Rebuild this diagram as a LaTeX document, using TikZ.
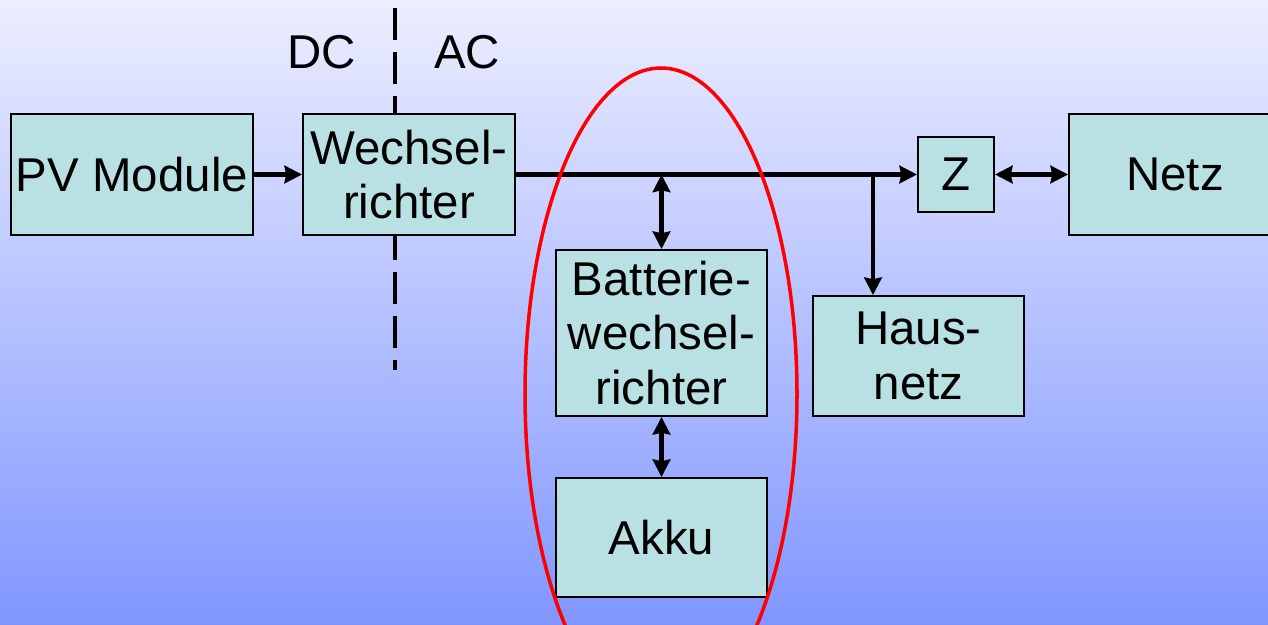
\documentclass[tikz,border=0pt]{standalone}
\usepackage{fontspec}
\setmainfont{Liberation Sans}
\usetikzlibrary{arrows.meta}
\definecolor{bgtop}{RGB}{236,238,255}
\definecolor{bgbot}{RGB}{128,150,255}
\definecolor{boxfill}{RGB}{185,224,227}
\begin{document}
\begin{tikzpicture}[x=0.02cm,y=-0.02cm,
  blk/.style={draw=black, line width=1.1pt, fill=boxfill, inner sep=0pt, align=center, font=\fontsize{27}{31}\selectfont},
  lbl/.style={font=\fontsize{27}{31}\selectfont, inner sep=0pt},
  wire/.style={line width=2.6pt, -{Stealth[length=10pt,width=10pt,inset=1pt]}},
  biwire/.style={line width=2.6pt, {Stealth[length=10pt,width=10pt,inset=1pt]}-{Stealth[length=10pt,width=10pt,inset=1pt]}},
  sep/.style={line width=1.9pt, dash pattern=on 0.64cm off 0.24cm},
  ring/.style={draw=red, line width=2pt},
]
\useasboundingbox (0,0) rectangle (1268,625);
\begin{scope}
\clip (0,0) rectangle (1268,625);
\shade[top color=bgtop,bottom color=bgbot] (0,0) rectangle (1268,625);
\coordinate (dtop) at (395,8);
\coordinate (dbot) at (395,370);
\draw[sep] (dtop) -- (dbot);
\node[lbl] (dc) at (322,52) {DC};
\node[lbl] (ac) at (467,52) {AC};
\node[blk, minimum width=4.84cm, minimum height=2.42cm] (pv) at (132,174.5) {PV Module};
\node[blk, minimum width=4.24cm, minimum height=2.42cm] (wr) at (409,174.5) {Wechsel-\\richter};
\node[blk, minimum width=4.22cm, minimum height=3.32cm] (bwr) at (661.5,333) {Batterie-\\wechsel-\\richter};
\node[blk, minimum width=4.22cm, minimum height=2.38cm] (akku) at (661.5,537.5) {Akku};
\node[blk, minimum width=1.52cm, minimum height=1.50cm] (z) at (956,174.5) {Z};
\node[blk, minimum width=4.24cm, minimum height=2.42cm] (netz) at (1175,174.5) {Netz};
\node[blk, minimum width=4.22cm, minimum height=2.40cm] (haus) at (918.5,356) {Haus-\\netz};
\coordinate (j1) at (661.5,174.5);
\coordinate (j2) at (873,174.5);
\draw[wire] (pv) -- (wr);
\draw[wire] (wr.east) -- (z.west);
\draw[biwire] (j1) -- (bwr.north);
\draw[wire] (j2) -- (j2 |- haus.north);
\draw[biwire] (bwr) -- (akku);
\draw[biwire] (z) -- (netz);
\draw[ring] (661,394) ellipse [x radius=136, y radius=326];
\end{scope}
\end{tikzpicture}
\end{document}
